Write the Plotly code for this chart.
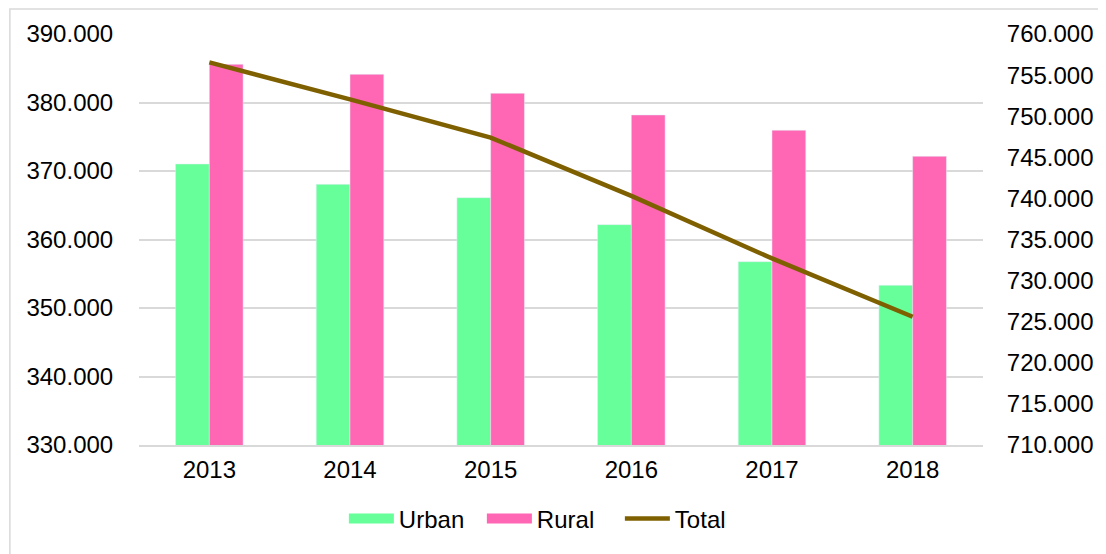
import plotly.graph_objects as go

years = ["2013", "2014", "2015", "2016", "2017", "2018"]
urban = [371020, 368050, 366100, 362170, 356760, 353310]
rural = [385570, 384110, 381340, 378180, 375940, 372140]
total = [756550, 752050, 747400, 740300, 732700, 725600]

FONT = "Liberation Sans, Arial, sans-serif"
GREEN = "#66FF99"
PINK = "#FF66B3"
BROWN = "#7F6000"

fig = go.Figure()
fig.add_trace(go.Bar(x=years, y=urban, name="Urban", marker_color=GREEN,
                     legendgroup="u", showlegend=False))
fig.add_trace(go.Bar(x=years, y=rural, name="Rural", marker_color=PINK,
                     legendgroup="r", showlegend=False))
fig.add_trace(go.Scatter(x=years, y=total, name="Total", mode="lines", yaxis="y2",
                         line=dict(color=BROWN, width=4.5), legendrank=3))

# wider legend swatches, like the spreadsheet legend
fig.add_trace(go.Scatter(x=[None], y=[None], mode="lines", name="Urban", legendgroup="u",
                         line=dict(color=GREEN, width=12), legendrank=1))
fig.add_trace(go.Scatter(x=[None], y=[None], mode="lines", name="Rural", legendgroup="r",
                         line=dict(color=PINK, width=12), legendrank=2))

fig.update_layout(
    width=1098, height=546,
    margin=dict(l=131, r=115, t=26, b=109),
    paper_bgcolor="white", plot_bgcolor="white",
    font=dict(family=FONT, size=24, color="#000000"),
    separators=",.",
    barmode="group", bargap=0.52, bargroupgap=0,
    xaxis=dict(showgrid=False, showline=True, linecolor="#D9D9D9", linewidth=1.5,
               ticks="outside", ticklen=2, tickcolor="rgba(0,0,0,0)"),
    yaxis=dict(range=[330000, 390000], dtick=10000, tickformat=",.0f",
               showgrid=True, gridcolor="#D9D9D9", gridwidth=1.5, zeroline=False,
               ticks="outside", ticklen=20, tickcolor="rgba(0,0,0,0)"),
    yaxis2=dict(range=[710000, 760000], dtick=5000, tickformat=",.0f", overlaying="y",
                side="right", showgrid=False, zeroline=False,
                ticks="outside", ticklen=18, tickcolor="rgba(0,0,0,0)"),
    legend=dict(orientation="h", x=0.488, xanchor="center", y=-0.18, yanchor="middle",
                font=dict(size=24), itemwidth=45, traceorder="normal",
                entrywidth=78, entrywidthmode="pixels"),
    showlegend=True,
)

# outer chart border (only top and left fall inside the picture)
fig.add_shape(type="rect", xref="paper", yref="paper", x0=-0.153, y0=-0.3, x1=1.2, y1=1.061,
              line=dict(color="#D9D9D9", width=1.5), layer="below")

fig.write_html("out.html")
